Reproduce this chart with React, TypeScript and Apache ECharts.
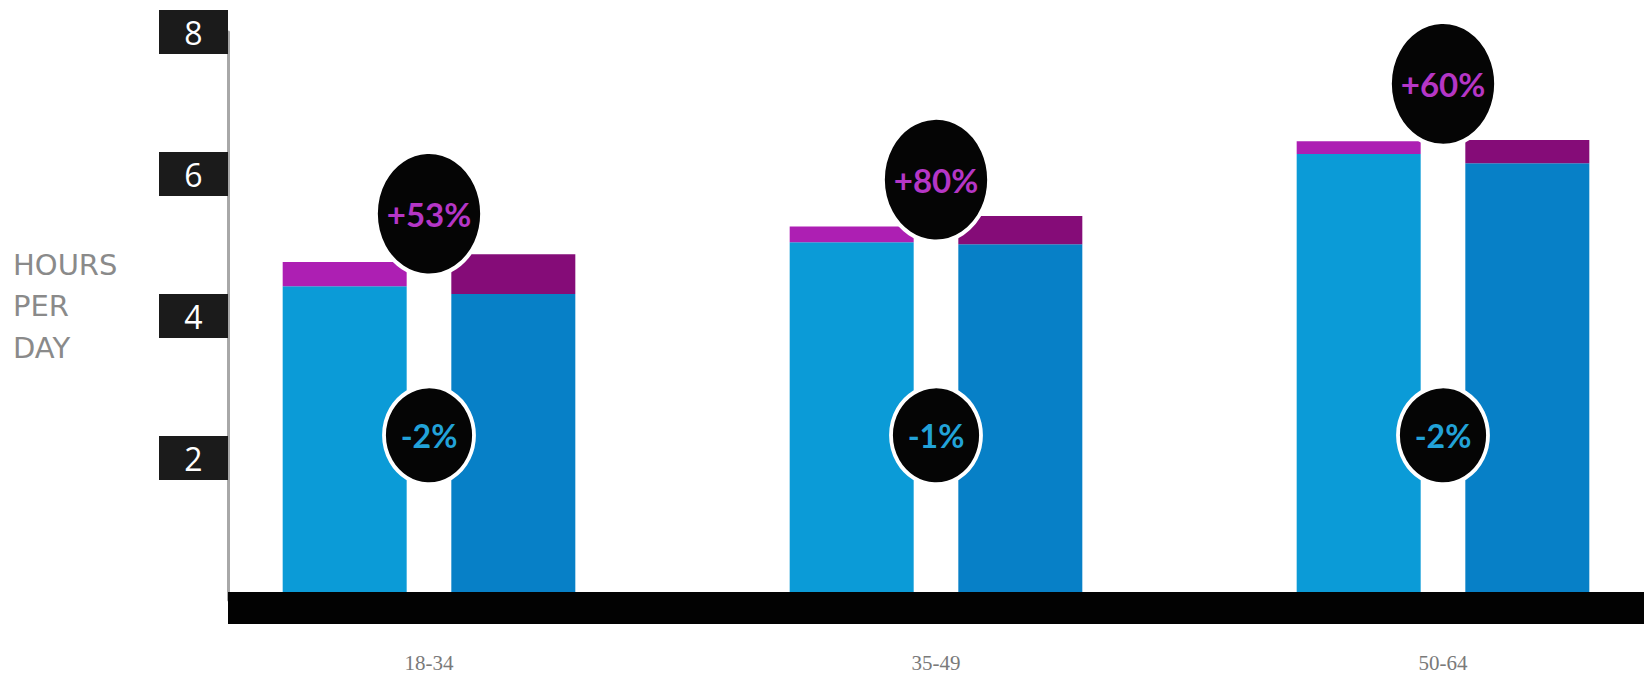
import { useEffect, useRef } from 'react';
import * as echarts from 'echarts';

const categories = ['18-34', '35-49', '50-64'];
const leftBase = [4.42, 5.04, 6.28];
const leftTop = [0.34, 0.22, 0.18];
const rightBase = [4.31, 5.01, 6.15];
const rightTop = [0.56, 0.4, 0.33];
const topBadgeValues = [5.44, 5.92, 7.27];
const topBadgeLabels = ['+53%', '+80%', '+60%'];
const bottomBadgeValues = [2.32, 2.32, 2.32];
const bottomBadgeLabels = ['-2%', '-1%', '-2%'];
const yMax = 8;
const yInterval = 2;
const axisTitleLines = ['HOURS', 'PER', 'DAY'];

export default function App() {
  const ref = useRef<HTMLDivElement>(null);
  useEffect(() => {
    document.body.style.margin = '0';
    const chart = echarts.init(ref.current!, null, { renderer: 'svg' });
    const barCommon = { type: 'bar', barWidth: 124, barGap: '36%', z: 2 };
    chart.setOption({
      animation: false,
      backgroundColor: '#ffffff',
      grid: { left: 429, top: 32, right: 201, height: 568 },
      xAxis: {
        type: 'category',
        data: categories,
        boundaryGap: false,
        axisLine: { show: false },
        axisTick: { show: false },
        axisLabel: {
          margin: 52,
          color: '#7a7a7a',
          fontSize: 21,
          fontFamily: 'Liberation Serif',
        },
      },
      yAxis: {
        type: 'value',
        min: 0,
        max: yMax,
        interval: yInterval,
        offset: 201,
        axisLine: { show: true, lineStyle: { color: '#a8a8a8', width: 3 } },
        axisTick: { show: false },
        splitLine: { show: false },
        axisLabel: {
          margin: 0,
          showMinLabel: false,
          formatter: '{b|{value}}',
          rich: {
            b: {
              width: 69,
              height: 44,
              lineHeight: 44,
              align: 'center',
              backgroundColor: '#1b1b1b',
              color: '#ffffff',
              fontSize: 32,
              fontFamily: 'Open Sans',
            },
          },
        },
      },
      series: [
        { ...barCommon, name: 'lb', stack: 'L', data: leftBase, itemStyle: { color: '#0b9bd7' } },
        { ...barCommon, name: 'lt', stack: 'L', data: leftTop, itemStyle: { color: '#ad1fb3' } },
        { ...barCommon, name: 'rb', stack: 'R', data: rightBase, itemStyle: { color: '#0780c7' } },
        { ...barCommon, name: 'rt', stack: 'R', data: rightTop, itemStyle: { color: '#850c78' } },
        {
          type: 'scatter',
          data: topBadgeValues,
          symbol: 'circle',
          symbolSize: [106, 124],
          z: 5,
          itemStyle: { color: '#050505', borderColor: '#ffffff', borderWidth: 4, opacity: 1 },
          label: {
            show: true,
            position: 'inside',
            formatter: (p: any) => topBadgeLabels[p.dataIndex],
            color: '#b536c6',
            fontSize: 33,
            fontWeight: 'bold',
            fontFamily: 'Lato',
          },
        },
        {
          type: 'scatter',
          data: bottomBadgeValues,
          symbol: 'circle',
          symbolSize: [90, 98],
          z: 5,
          itemStyle: { color: '#050505', borderColor: '#ffffff', borderWidth: 4, opacity: 1 },
          label: {
            show: true,
            position: 'inside',
            formatter: (p: any) => bottomBadgeLabels[p.dataIndex],
            color: '#22a2d8',
            fontSize: 32,
            fontWeight: 'bold',
            fontFamily: 'Lato',
          },
        },
      ],
      graphic: [
        {
          type: 'rect',
          z: 20,
          shape: { x: 228, y: 592, width: 1416, height: 32 },
          style: { fill: '#020202' },
        },
        ...axisTitleLines.map((t, i) => ({
          type: 'text',
          left: 13,
          top: 250 + i * 41.5,
          style: {
            text: t,
            fill: '#8a8a8a',
            fontSize: 29,
            fontFamily: 'DejaVu Sans',
          },
        })),
      ],
    });
    return () => chart.dispose();
  }, []);
  return <div ref={ref} style={{ width: 1644, height: 676 }} />;
}
